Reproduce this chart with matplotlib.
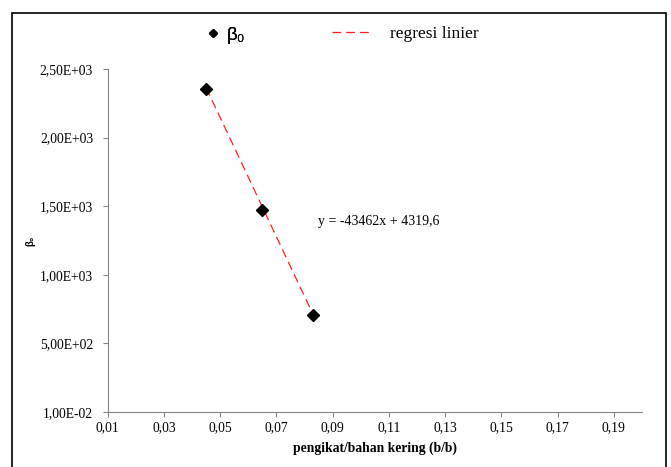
import matplotlib
matplotlib.use("Agg")
import matplotlib.pyplot as plt
from matplotlib.lines import Line2D
from matplotlib.patches import Rectangle

plt.rcParams['font.family'] = ['Liberation Serif', 'DejaVu Serif']

# data: binder/dry matter ratio vs beta0
kadar_pengikat = [0.045, 0.065, 0.083]
beta0 = [2355, 1470, 707]

# linear regression from the equation shown on the chart
slope = -43462
intercept = 4319.6

x_ticks = [0.01, 0.03, 0.05, 0.07, 0.09, 0.11, 0.13, 0.15, 0.17, 0.19]
y_ticks = [0.01, 500.01, 1000.01, 1500.01, 2000.01, 2500.01]

fig = plt.figure(figsize=(6.71, 4.67), dpi=100)
ax = fig.add_axes([0.1605, 0.1178, 0.7963, 0.7344])

gray = '#868686'

x_fit = [min(kadar_pengikat), max(kadar_pengikat)]
y_fit = [slope * x + intercept for x in x_fit]
fit_line, = ax.plot(x_fit, y_fit, color='#ff2020', lw=0.9, dashes=(7, 4), zorder=2)
pts, = ax.plot(kadar_pengikat, beta0, ls='none', marker='D', ms=6.3,
               color='black', zorder=3)

ax.set_xlim(0.01, 0.20)
ax.set_ylim(0.01, 2500.01)
ax.set_xticks(x_ticks)
ax.set_xticklabels([f'{v:.2f}'.replace('.', ',') for v in x_ticks])
ax.set_yticks(y_ticks)
ax.set_yticklabels([f'{v:.2E}'.replace('.', ',') for v in y_ticks])

for s in ['top', 'right']:
    ax.spines[s].set_visible(False)
for s in ['left', 'bottom']:
    ax.spines[s].set_color(gray)
    ax.spines[s].set_linewidth(0.8)
ax.tick_params(axis='y', direction='out', length=3.5, width=0.8, color=gray,
               labelsize=9.8, pad=7)
ax.tick_params(axis='x', direction='out', length=3.5, width=0.8, color=gray,
               labelsize=9.8, pad=3)

ax.text(0.0848, 1385, 'y = -43462x + 4319,6', fontsize=10,
        ha='left', va='center')

ax.set_xlabel('pengikat/bahan kering (b/b)', fontsize=9.8, fontweight='bold')
ax.xaxis.set_label_coords(0.5, -0.087)
fig.text(0.045, 0.485, 'β₀', fontsize=7, fontweight='bold', rotation=90,
         ha='center', va='center', family=['Liberation Sans', 'DejaVu Sans'])

# legend: two separate entries across the top
marker_handle = Line2D([], [], ls='none', marker='D', ms=4.2, color='black')
leg1 = fig.legend([marker_handle], ['β₀'], loc='center left',
                  bbox_to_anchor=(207.6 / 671, 0.925), frameon=False,
                  borderpad=0, borderaxespad=0, handlelength=0.6,
                  handletextpad=0.4,
                  prop={'family': ['Liberation Sans', 'DejaVu Sans'], 'size': 13.5})
line_handle = Line2D([], [], color='#ff2020', lw=0.9, dashes=(7, 4))
leg2 = fig.legend([line_handle], ['regresi linier'], loc='center left',
                  bbox_to_anchor=(332 / 671, 0.927), frameon=False,
                  borderpad=0, borderaxespad=0, handlelength=2.36,
                  handletextpad=0.98, prop={'size': 12.5})
fig.add_artist(leg1)

# outer frame, open at the bottom edge of the image
frame = Rectangle((12 / 671, -0.05), 654 / 671, 1.05 - 13 / 467,
                  transform=fig.transFigure, fill=False, edgecolor='black',
                  lw=1.2, clip_on=False)
fig.add_artist(frame)

fig.savefig('out.png', dpi=100)
